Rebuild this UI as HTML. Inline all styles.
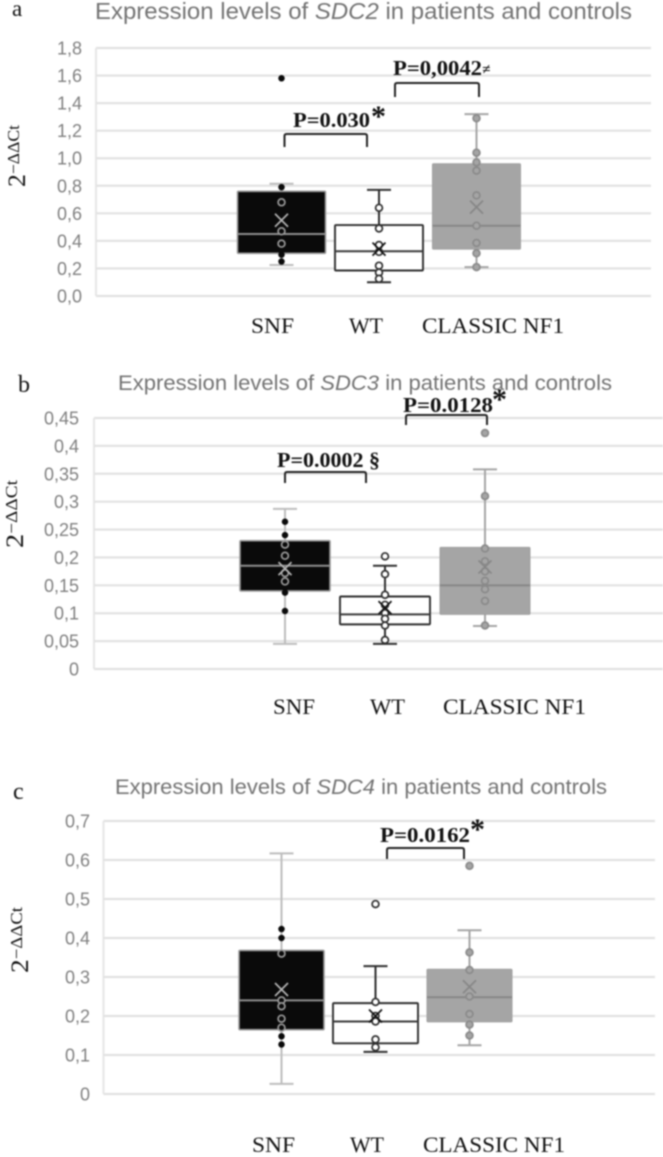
<!DOCTYPE html>
<html>
<head>
<meta charset="utf-8">
<title>Expression levels of SDC2, SDC3 and SDC4</title>
<style>
html,body{margin:0;padding:0;background:#fff;}
svg{display:block;filter:blur(0.7px);}
.title{font-family:"Liberation Sans",sans-serif;fill:#737373;}
.tick{font-family:"Liberation Sans",sans-serif;font-size:18px;fill:#808080;text-anchor:end;}
.serif{font-family:"Liberation Serif",serif;fill:#111;}
.p{font-family:"Liberation Serif",serif;font-weight:bold;font-size:21px;fill:#111;}
.br{fill:none;stroke:#222;stroke-width:2;}
</style>
</head>
<body>
<svg id="fig" xmlns="http://www.w3.org/2000/svg" width="663" height="1157" viewBox="0 0 663 1157">
  <rect width="663" height="1157" fill="#fff"/>

  <text class="serif" x="12" y="16" font-size="23">a</text>
  <text class="title" x="95" y="19" font-size="23.500" textLength="537" lengthAdjust="spacingAndGlyphs">Expression levels of <tspan font-style="italic">SDC2</tspan> in patients and controls</text>
  <text class="serif" transform="translate(25,187) rotate(-90)" font-size="25" textLength="62" lengthAdjust="spacingAndGlyphs">2<tspan font-size="17" dy="-6">−ΔΔCt</tspan></text>

  <text class="serif" x="18" y="392" font-size="24">b</text>
  <text class="title" x="118" y="390" font-size="21.500" textLength="494" lengthAdjust="spacingAndGlyphs">Expression levels of <tspan font-style="italic">SDC3</tspan> in patients and controls</text>
  <text class="serif" transform="translate(23,548) rotate(-90)" font-size="25" textLength="68" lengthAdjust="spacingAndGlyphs">2<tspan font-size="17" dy="-6">−ΔΔCt</tspan></text>

  <text class="serif" x="13" y="799" font-size="24">c</text>
  <text class="title" x="115" y="794" font-size="21.500" textLength="492" lengthAdjust="spacingAndGlyphs">Expression levels of <tspan font-style="italic">SDC4</tspan> in patients and controls</text>
  <text class="serif" transform="translate(28,973) rotate(-90)" font-size="25" textLength="66" lengthAdjust="spacingAndGlyphs">2<tspan font-size="17" dy="-6">−ΔΔCt</tspan></text>

  <g id="marks"></g>

  <g>
    <path class="br" d="M284.500 147V136q0-2 2-2H365q2 0 2 2V147"/>
    <text class="p" x="293" y="127" textLength="77" lengthAdjust="spacingAndGlyphs">P=0.030</text>
    <text class="serif" x="371" y="126" font-size="30" font-weight="bold">*</text>
  </g>
  <g>
    <path class="br" d="M395 97V85q0-2 2-2H477q2 0 2 2V97"/>
    <text class="p" x="393" y="75" textLength="89" lengthAdjust="spacingAndGlyphs">P=0,0042</text>
    <text class="serif" x="482" y="74" font-size="15" font-weight="bold" font-style="italic">≠</text>
  </g>
  <g>
    <path class="br" d="M285 483V474q0-2 2-2H364q2 0 2 2V483"/>
    <text class="p" x="277" y="467" textLength="103" lengthAdjust="spacingAndGlyphs">P=0.0002 §</text>
  </g>
  <g>
    <path class="br" d="M406 425V417q0-2 2-2H485q2 0 2 2V425"/>
    <text class="p" x="403" y="412" textLength="90" lengthAdjust="spacingAndGlyphs">P=0.0128</text>
    <text class="serif" x="492" y="409" font-size="30" font-weight="bold">*</text>
  </g>
  <g>
    <path class="br" d="M387 859V850q0-2 2-2H462q2 0 2 2V859"/>
    <text class="p" x="380" y="842" textLength="90" lengthAdjust="spacingAndGlyphs">P=0.0162</text>
    <text class="serif" x="470" y="839" font-size="30" font-weight="bold">*</text>
  </g>
</svg>

<script>
var categories = ["SNF", "WT", "CLASSIC NF1"];

var aTicks = ["0,0", "0,2", "0,4", "0,6", "0,8", "1,0", "1,2", "1,4", "1,6", "1,8"];
var aWhiskerLow = [0.225, 0.10, 0.21];
var aQ1 = [0.31, 0.185, 0.34];
var aMedian = [0.45, 0.325, 0.51];
var aQ3 = [0.76, 0.515, 0.96];
var aWhiskerHigh = [0.815, 0.77, 1.32];
var aMean = [0.55, 0.34, 0.645];
var aSnfPoints = [1.58, 0.79, 0.68, 0.47, 0.38, 0.30, 0.25];
var aWtPoints = [0.64, 0.49, 0.37, 0.32, 0.22, 0.17, 0.125];
var aClassicPoints = [1.29, 1.04, 0.97, 0.91, 0.73, 0.51, 0.385, 0.31, 0.21];

var bTicks = ["0", "0,05", "0,1", "0,15", "0,2", "0,25", "0,3", "0,35", "0,4", "0,45"];
var bWhiskerLow = [0.045, 0.045, 0.077];
var bQ1 = [0.14, 0.08, 0.098];
var bMedian = [0.185, 0.098, 0.15];
var bQ3 = [0.23, 0.13, 0.218];
var bWhiskerHigh = [0.287, 0.185, 0.358];
var bMean = [0.18, 0.11, 0.183];
var bSnfPoints = [0.264, 0.24, 0.223, 0.203, 0.172, 0.157, 0.137, 0.104];
var bWtPoints = [0.202, 0.17, 0.133, 0.115, 0.10, 0.09, 0.078, 0.052];
var bClassicPoints = [0.423, 0.31, 0.216, 0.193, 0.175, 0.158, 0.143, 0.122, 0.078];

var cTicks = ["0", "0,1", "0,2", "0,3", "0,4", "0,5", "0,6", "0,7"];
var cWhiskerLow = [0.026, 0.108, 0.125];
var cQ1 = [0.165, 0.13, 0.185];
var cMedian = [0.24, 0.186, 0.248];
var cQ3 = [0.368, 0.233, 0.32];
var cWhiskerHigh = [0.617, 0.328, 0.42];
var cMean = [0.268, 0.20, 0.275];
var cSnfPoints = [0.423, 0.40, 0.36, 0.24, 0.225, 0.193, 0.17, 0.148, 0.127];
var cWtPoints = [0.487, 0.236, 0.20, 0.186, 0.14, 0.12];
var cClassicPoints = [0.585, 0.363, 0.318, 0.25, 0.205, 0.178, 0.15];

var SVGNS = "http://www.w3.org/2000/svg";
var root = document.getElementById("marks");

function make(tag, attrs, parent) {
  var el = document.createElementNS(SVGNS, tag);
  for (var k in attrs) { el.setAttribute(k, attrs[k]); }
  parent.appendChild(el);
  return el;
}

var seriesStyles = [
  { fill: "#0a0a0a", edge: "#9a9a9a", whisker: "#bdbdbd", median: "#8f8f8f", mean: "#b5b5b5", edgeWidth: 1.6 },
  { fill: "#ffffff", edge: "#2e2e2e", whisker: "#2e2e2e", median: "#3a3a3a", mean: "#111111", edgeWidth: 1.9 },
  { fill: "#a5a5a5", edge: "#a0a0a0", whisker: "#a5a5a5", median: "#878787", mean: "#868686", edgeWidth: 1 }
];

function drawPanel(p) {
  var g = make("g", {}, root);
  
  

  var maxValue = parseFloat(p.ticks[p.ticks.length - 1].replace(",", "."));
  function yScale(v) { return p.bottom - (v / maxValue) * (p.bottom - p.top); }
  function xScale(i) { return p.firstCenter + i * p.step; }

  var axis = make("line", { x1: p.left, x2: p.left, y1: p.top, y2: p.bottom, stroke: "#e6e6e6", "stroke-width": 2 }, g);
  
  

  p.ticks.forEach(function (label) {
    var v = parseFloat(label.replace(",", "."));
    var grid = make("line", { x1: p.left, x2: p.right, y1: yScale(v), y2: yScale(v), stroke: "#e2e2e2", "stroke-width": 2.2 }, g);
    
    
    var t = make("text", { x: p.tickRight, y: yScale(v) + 6.5, "class": "tick" }, g);
    
    
    t.textContent = label;
  });

  categories.forEach(function (name, i) {
    var s = seriesStyles[i];
    var cx = xScale(i);
    var half = p.boxWidth / 2;
    var capHalf = 12;

    var whisker = make("line", { x1: cx, x2: cx, y1: yScale(p.low[i]), y2: yScale(p.high[i]), stroke: s.whisker, "stroke-width": 2 }, g);
    
    

    var capLow = make("line", { x1: cx - capHalf, x2: cx + capHalf, y1: yScale(p.low[i]), y2: yScale(p.low[i]), stroke: s.whisker, "stroke-width": 2 }, g);
    
    

    var capHigh = make("line", { x1: cx - capHalf, x2: cx + capHalf, y1: yScale(p.high[i]), y2: yScale(p.high[i]), stroke: s.whisker, "stroke-width": 2 }, g);
    
    

    var box = make("rect", { x: cx - half, y: yScale(p.q3[i]), width: p.boxWidth, height: yScale(p.q1[i]) - yScale(p.q3[i]), fill: s.fill, stroke: s.edge, "stroke-width": s.edgeWidth, rx: 1 }, g);
    
    

    var median = make("line", { x1: cx - half, x2: cx + half, y1: yScale(p.median[i]), y2: yScale(p.median[i]), stroke: s.median, "stroke-width": 2 }, g);
    
    

    p.points[i].forEach(function (v) {
      var inBox = v <= p.q3[i] && v >= p.q1[i];
      var fill = s.fill;
      var stroke = s.edge;
      var r = 3.4;
      if (i === 0) {
        stroke = inBox ? "#9a9a9a" : "#0a0a0a";
        r = inBox ? 3.4 : 2.4;
      } else if (i === 2) {
        stroke = "#8a8a8a";
        r = 3.4;
      }
      var dot = make("circle", { cx: cx, cy: yScale(v), r: r, fill: fill, stroke: stroke, "stroke-width": 1.7 }, g);
      
      
    });

    var my = yScale(p.mean[i]);
    var mean = make("path", { d: "M" + (cx - 6.5) + " " + (my - 6.5) + "L" + (cx + 6.5) + " " + (my + 6.5) + "M" + (cx - 6.5) + " " + (my + 6.5) + "L" + (cx + 6.5) + " " + (my - 6.5), stroke: s.mean, "stroke-width": 1.7, fill: "none" }, g);
    
    

    var label = make("text", { x: p.labelX[i], y: p.labelY, "class": "serif", "font-size": 22, textLength: p.labelW[i], lengthAdjust: "spacingAndGlyphs" }, g);
    
    
    label.textContent = name;
  });
}

drawPanel({
  id: "a", top: 48, bottom: 296, left: 96, right: 651, tickRight: 82,
  firstCenter: 281.5, step: 97.5, boxWidth: 88,
  labelX: [251, 349, 422], labelW: [43, 34, 142], labelY: 333,
  ticks: aTicks, low: aWhiskerLow, q1: aQ1, median: aMedian, q3: aQ3, high: aWhiskerHigh, mean: aMean,
  points: [aSnfPoints, aWtPoints, aClassicPoints]
});
drawPanel({
  id: "b", top: 418, bottom: 669, left: 94, right: 663, tickRight: 79,
  firstCenter: 285, step: 100, boxWidth: 90,
  labelX: [273, 370, 443], labelW: [42, 35, 143], labelY: 714,
  ticks: bTicks, low: bWhiskerLow, q1: bQ1, median: bMedian, q3: bQ3, high: bWhiskerHigh, mean: bMean,
  points: [bSnfPoints, bWtPoints, bClassicPoints]
});
drawPanel({
  id: "c", top: 821, bottom: 1094, left: 103.5, right: 655, tickRight: 90,
  firstCenter: 281.5, step: 94, boxWidth: 85,
  labelX: [252, 350, 423], labelW: [43, 34, 142], labelY: 1152,
  ticks: cTicks, low: cWhiskerLow, q1: cQ1, median: cMedian, q3: cQ3, high: cWhiskerHigh, mean: cMean,
  points: [cSnfPoints, cWtPoints, cClassicPoints]
});
</script>
</body>
</html>
